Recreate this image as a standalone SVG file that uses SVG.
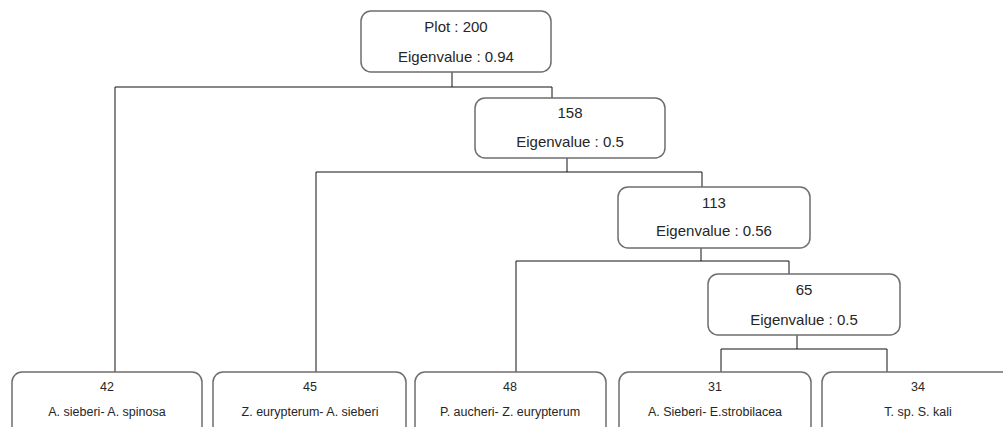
<svg xmlns="http://www.w3.org/2000/svg" width="1003" height="427" viewBox="0 0 1003 427">
<style>
.box{fill:#fff;stroke:#6e6e6e;stroke-width:1.5}
.t{font-family:"Liberation Sans",Arial,sans-serif;font-size:15px;fill:#262626;text-anchor:middle;dominant-baseline:central}
.s{font-family:"Liberation Sans",Arial,sans-serif;font-size:12.5px;fill:#262626;text-anchor:middle;dominant-baseline:central}
.c{fill:none;stroke:#111;stroke-width:1}
</style>
<rect width="1003" height="427" fill="#fff"/>
<g id="connectors">
<path class="c" d="M452,72V87M115,87H552V98M115,87V372"/>
<path class="c" d="M567,158V172M316,172H702V187M316,172V372"/>
<path class="c" d="M701,248V261M516,261H789V274M516,261V372"/>
<path class="c" d="M797,335V349M721,349H887V372M721,349V372"/>
</g>
<g id="n200"><rect class="box" x="361" y="11" width="190" height="61" rx="10"/><text class="t" x="456" y="26">Plot : 200</text><text class="t" x="456" y="56">Eigenvalue : 0.94</text></g>
<g id="n158"><rect class="box" x="475" y="98" width="190" height="60" rx="10"/><text class="t" x="570" y="112">158</text><text class="t" x="570" y="141">Eigenvalue : 0.5</text></g>
<g id="n113"><rect class="box" x="618" y="187" width="192" height="61" rx="10"/><text class="t" x="714" y="202">113</text><text class="t" x="714" y="230">Eigenvalue : 0.56</text></g>
<g id="n65"><rect class="box" x="708" y="274" width="192" height="61" rx="10"/><text class="t" x="804" y="289">65</text><text class="t" x="804" y="319">Eigenvalue : 0.5</text></g>
<g id="n42"><rect class="box" x="12" y="372" width="190" height="70" rx="10"/><text class="s" x="107" y="387">42</text><text class="s" x="107" y="412">A. sieberi- A. spinosa</text></g>
<g id="n45"><rect class="box" x="213" y="372" width="193" height="70" rx="10"/><text class="s" x="310" y="387">45</text><text class="s" x="310" y="412">Z. eurypterum- A. sieberi</text></g>
<g id="n48"><rect class="box" x="415" y="372" width="191" height="70" rx="10"/><text class="s" x="510" y="387">48</text><text class="s" x="510" y="412">P. aucheri- Z. eurypterum</text></g>
<g id="n31"><rect class="box" x="619" y="372" width="192" height="70" rx="10"/><text class="s" x="715" y="387">31</text><text class="s" x="715" y="412">A. Sieberi- E.strobilacea</text></g>
<g id="n34"><rect class="box" x="822" y="372" width="192" height="70" rx="10"/><text class="s" x="918" y="387">34</text><text class="s" x="918" y="412">T. sp. S. kali</text></g>
</svg>
